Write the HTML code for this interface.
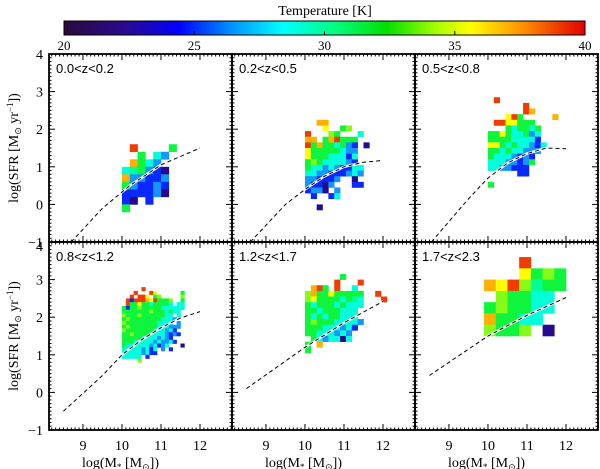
<!DOCTYPE html>
<html><head><meta charset="utf-8"><style>
html,body{margin:0;padding:0;background:#fff;width:600px;height:469px;overflow:hidden}
svg text{font-family:"Liberation Serif",serif;fill:#000}
.pl{font-family:"Liberation Sans",sans-serif !important;font-size:13px}
</style></head><body>
<svg id="chart" width="600" height="469" viewBox="0 0 600 469" xmlns="http://www.w3.org/2000/svg">
<defs>
<linearGradient id="cb" x1="0" x2="1" y1="0" y2="0">
<stop offset="0" stop-color="#2a0a3a"/><stop offset="0.12" stop-color="#2a0a90"/><stop offset="0.22" stop-color="#0000ff"/><stop offset="0.32" stop-color="#0090ff"/><stop offset="0.42" stop-color="#00ffff"/><stop offset="0.52" stop-color="#00ff80"/><stop offset="0.62" stop-color="#00e000"/><stop offset="0.72" stop-color="#b0ff00"/><stop offset="0.78" stop-color="#ffff00"/><stop offset="0.88" stop-color="#ff9000"/><stop offset="1" stop-color="#e00000"/>
</linearGradient>
</defs>
<g id="colorbar">
<text x="325" y="15" font-size="14" text-anchor="middle">Temperature [K]</text>
<rect x="64" y="21" width="521" height="14" fill="url(#cb)" stroke="#000" stroke-width="1"/>
</g>
<g id="panels"></g>
</svg>
<script>
const cbTicks=[20,25,30,35,40];
const panelLabels=["0.0<z<0.2","0.2<z<0.5","0.5<z<0.8","0.8<z<1.2","1.2<z<1.7","1.7<z<2.3"];
const xTickLabels=[9,10,11,12];
const yTickLabels=[-1,0,1,2,3,4];
// temperature code legend
const tempCodes=["P","B","b","c","C","g","G","y","o","r"];
const tempValues=[22,24.5,26.5,29,30.5,32,34,35.5,37,39];
// grid definitions: left mass edge, top SFR edge, bin size
const gridMass0=[10.0,10.0,10.0,10.0,10.0,9.9];
const gridSfrTop=[1.6,2.25,2.85,2.8,3.15,3.6];
const gridBin=[0.2,0.15,0.15,0.1,0.15,0.3];
const grid1=[
".r....g",
"..g.cb.",
".ogcb..",
"cCgbBP.",
"obbBBb.",
"gbBBbB.",
"BBBBbP.",
"BP.B...",
"g......"];
const grid2=[
"..oo........",
"...y..gG....",
"r...Gg...c..",
"oo.gorggg...",
"rgoggcgbB.P.",
"ygggggcbb...",
"ygggcccBc...",
"gGgccccbB...",
"gccbcbBBcc..",
"ccbbBBBbcb..",
"bbBBBb..P...",
"bBBPb...BB..",
"BbbP.b......",
".B..Bc......",
"............",
"..P........."];
const grid3=[
".r..........",
"......r.....",
"......ro....",
"...yrg.....o",
".rryyggg....",
"...gcggcg...",
"ggygccgbc...",
"ggggccccB...",
"yygcgccbBc..",
"ggcgccbbb...",
"gcccbBbB....",
"cccbbBbg....",
"ccbbBBB.....",
".....BB.....",
"............",
"g..........."];
const grid4=[
".....r..........",
"...r...ry......g",
"..r.rry.gG.....G",
".rBrrroyrgggG..g",
".rggyggcggggc.cc",
"gBggGgggggcccccc",
"gggggggGgggcgcc.",
"GgggGggggggcc.c.",
"gGggggggggcccb..",
"Gggggggggcccc.b.",
"gGgggggggcccbbb.",
"GgggggggcccbcB..",
"ggGggggccccbBbB.",
"gggggccccbcbB...",
"gggcccccbcbbcB..",
"gccccccbcBbc...P",
"cccccbcBc.b.B...",
"cccccbcBB.......",
"ccccc.B.........",
"....G..........."];
const grid5=[
"......g.......",
".....r...r....",
".org.r..c.....",
"Goggyggggg..r.",
"GyggggcgCc...r",
"gcgggcgccc....",
"ggcgggccc.....",
"gcgcggccc.....",
"gGgggccccb....",
"gggcccbcB.....",
"ggcccbcb......",
".gcbccPc......",
"g.o...........",
"g............."];
const grid6=[
"...r...",
"...ygGg",
"oyrGCgg",
".Gggcc.",
"gGggcc.",
"oggcc..",
"GggG.P."];
const grids=[grid1,grid2,grid3,grid4,grid5,grid6];
// main-sequence curves (mass, sfr)
const curveMass1=[8.7,9.5,10.2,11.0,12.0];const curveSfr1=[-1,-0.1,0.5,1.05,1.5];
const curveMass2=[8.6,9.5,10.0,10.5,11.0,11.5,12.0];const curveSfr2=[-1,0.0,0.4,0.75,1.0,1.12,1.17];
const curveMass3=[8.55,9.5,10.0,10.5,11.0,11.5,12.0];const curveSfr3=[-1,0.15,0.7,1.1,1.35,1.5,1.48];
const curveMass4=[8.5,9.5,10.0,10.5,11.0,11.5,12.0];const curveSfr4=[-0.5,0.45,1.0,1.4,1.72,1.98,2.15];
const curveMass5=[8.5,10.0,11.0,12.0];const curveSfr5=[0.1,1.2,1.85,2.42];
const curveMass6=[8.5,10.0,11.0,12.0];const curveSfr6=[0.45,1.5,2.05,2.52];
const curveMass=[curveMass1,curveMass2,curveMass3,curveMass4,curveMass5,curveMass6];
const curveSfr=[curveSfr1,curveSfr2,curveSfr3,curveSfr4,curveSfr5,curveSfr6];

const NS="http://www.w3.org/2000/svg";
const svg=document.getElementById('chart');
const root=document.getElementById('panels');
function mk(t,a,p){const e=document.createElementNS(NS,t);for(const k in a)e.setAttribute(k,a[k]);(p||root).appendChild(e);return e;}
const cmapT=[20,21.5,22.5,24.5,26.5,28.5,30.5,32.5,34.5,35.5,37.5,40];
const cmapC=[[42,10,58],[42,10,120],[30,10,170],[10,40,255],[20,150,255],[0,255,240],[0,255,150],[20,240,30],[170,255,20],[255,255,0],[255,150,0],[230,0,0]];
function color(t){for(let i=0;i<cmapT.length-1;i++){if(t<=cmapT[i+1]){const f=Math.max(0,(t-cmapT[i])/(cmapT[i+1]-cmapT[i]));const c=cmapC[i].map((v,j)=>Math.round(v+(cmapC[i+1][j]-v)*f));return `rgb(${c})`;}}return 'rgb(230,0,0)';}
const cbX=t=>64+(t-20)/20*521;
cbTicks.forEach(t=>{
 const tx=mk('text',{x:cbX(t),y:50,'font-size':13,'text-anchor':'middle'},svg.querySelector('#colorbar'));tx.textContent=t;
 
 
 if(t>20&&t<40){const l=mk('line',{x1:cbX(t),x2:cbX(t),y1:31,y2:35,stroke:'#000'},svg.querySelector('#colorbar'));
 
 }
});
const PW=183,PH=188,L0=49,T0=54,XMIN=8.13,YMAX=4,SX=PW/4.69,SY=PH/5;
for(let p=0;p<6;p++){
 const col=p%3,row=Math.floor(p/3);
 const left=L0+col*PW,top=T0+row*PH;
 const X=m=>left+(m-XMIN)*SX, Y=s=>top+(YMAX-s)*SY;
 const g=mk('g',{});
 
 
 const gr=grids[p],b=gridBin[p];
 gr.forEach((rowStr,r)=>{[...rowStr].forEach((ch,c)=>{
  const k=tempCodes.indexOf(ch);if(k<0)return;
  const m0=gridMass0[p]+c*b, s1=gridSfrTop[p]-r*b;
  const x1=X(m0),x2=X(m0+b),y1=Y(s1),y2=Y(s1-b);
  const rc=mk('rect',{x:x1.toFixed(2),y:y1.toFixed(2),width:(x2-x1+0.3).toFixed(2),height:(y2-y1+0.3).toFixed(2),fill:color(tempValues[k])},g);
  
  
 });});
 const pts=curveMass[p].map((m,i)=>X(m).toFixed(1)+','+Y(curveSfr[p][i]).toFixed(1)).join(' ');
 const w=mk('polyline',{points:pts,fill:'none',stroke:'#fff','stroke-width':2.5},g);
 
 
 const d=mk('polyline',{points:pts,fill:'none',stroke:'#000','stroke-width':1,'stroke-dasharray':'4,3'},g);
 
 
 for(let v=8.2;v<=12.8;v+=0.1){const vv=Math.round(v*10)/10;const maj=Math.abs(vv-Math.round(vv))<1e-6;const len=maj?6:2.5;const x=X(vv);
  mk('line',{x1:x,x2:x,y1:top+PH,y2:top+PH-len,stroke:'#000','stroke-width':1},g);
  mk('line',{x1:x,x2:x,y1:top,y2:top+len,stroke:'#000','stroke-width':1},g);}
 for(let v=-1;v<=4.001;v+=0.1){const vv=Math.round(v*10)/10;const maj=Math.abs(vv-Math.round(vv))<1e-6;const len=maj?6:2.5;const y=Y(vv);
  mk('line',{x1:left,x2:left+len,y1:y,y2:y,stroke:'#000','stroke-width':1},g);
  mk('line',{x1:left+PW,x2:left+PW-len,y1:y,y2:y,stroke:'#000','stroke-width':1},g);}
 const fr=mk('rect',{x:left,y:top,width:PW,height:PH,fill:'none',stroke:'#000','stroke-width':1.8},g);
 
 
 const lb=mk('text',{x:left+7,y:top+19,class:'pl'},g);lb.textContent=panelLabels[p];
 
 
 if(col===0){yTickLabels.forEach(v=>{if(row===1&&v===4)return;const t=mk('text',{x:left-6,y:Y(v)+5,'font-size':14,'text-anchor':'end'},g);t.textContent=v<0?'\u2212'+(-v):v;
  
  });
  if(row===1){const t=mk('text',{x:left-6,y:Y(4)+9,'font-size':14,'text-anchor':'end'},g);t.textContent='4';
  
  }
  const yt=mk('text',{x:0,y:0,'font-size':14,'text-anchor':'middle',transform:`translate(18,${top+PH/2}) rotate(-90)`},g);
  yt.innerHTML='log(SFR [M<tspan font-size="9" dy="3">\u2299</tspan><tspan dy="-3"> yr</tspan><tspan font-size="9" dy="-5">\u22121</tspan><tspan dy="5">])</tspan>';
  
  }
 if(row===1){xTickLabels.forEach(v=>{const t=mk('text',{x:X(v),y:top+PH+20,'font-size':14,'text-anchor':'middle'},g);t.textContent=v;
  
  });
  const xt=mk('text',{x:left+PW/2-20,y:top+PH+37,'font-size':14,'text-anchor':'middle'},g);
  xt.innerHTML='log(M<tspan font-size="9" dy="3">*</tspan><tspan dy="-3"> [M</tspan><tspan font-size="9" dy="3">\u2299</tspan><tspan dy="-3">])</tspan>';
  
  }
}
</script>
</body></html>
